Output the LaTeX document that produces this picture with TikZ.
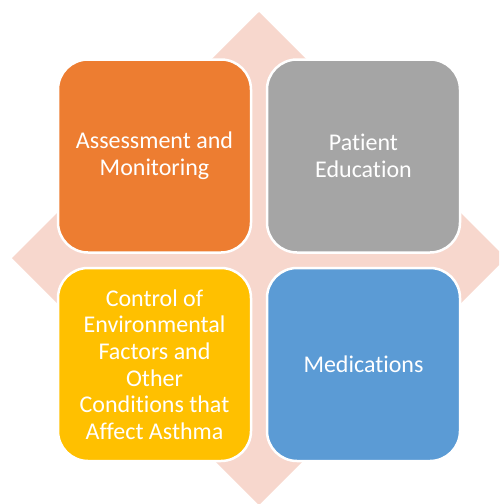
\documentclass[tikz,border=0pt]{standalone}
\usepackage{fontspec}
\setmainfont{Carlito}[Ligatures=NoCommon]
\definecolor{asthmaorange}{HTML}{ED7D31}
\definecolor{asthmagray}{HTML}{A5A5A5}
\definecolor{asthmayellow}{HTML}{FFC000}
\definecolor{asthmablue}{HTML}{5B9BD5}
\definecolor{asthmapink}{HTML}{F7D7CD}
\begin{document}
\begin{tikzpicture}[x=1pt,y=-1pt,
    tile/.style={draw=white, line width=2.5pt, rounded corners=30pt,
        minimum width=193pt, minimum height=193pt, inner sep=0pt,
        text=white, align=center, font=\fontsize{24}{26.6}\selectfont}]
    \useasboundingbox (0,0) rectangle (499,504);
    \clip (0,0) rectangle (499,504);

    \fill[asthmapink] (259,12) -- (506,258) -- (259,505) -- (12,258) -- cycle;

    \node[tile, fill=asthmaorange] (assess) at (154.5,156)
        {Assessment and\\Monitoring};
    \node[tile, fill=asthmagray] (educ) at (363.5,156)
        {Patient\\Education};
    \node[tile, fill=asthmayellow] (control) at (154.5,364.5)
        {Control of\\Environmental\\Factors and\\Other\\Conditions that\\Affect Asthma};
    \node[tile, fill=asthmablue] (meds) at (363.5,364.5)
        {Medications};
\end{tikzpicture}
\end{document}
